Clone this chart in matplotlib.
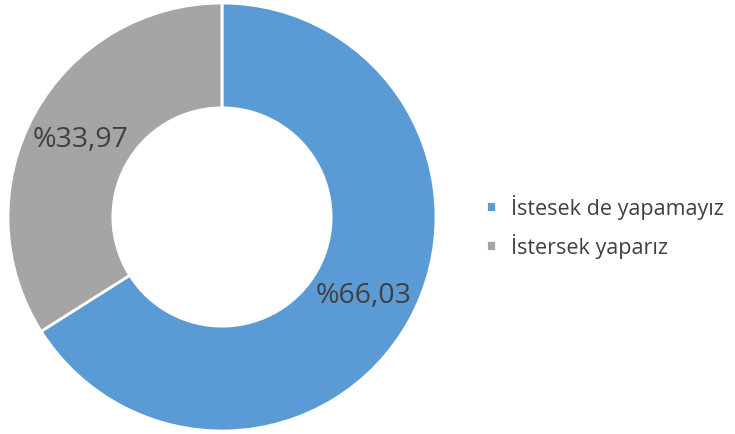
import matplotlib.pyplot as plt

labels = ["İstesek de yapamayız", "İstersek yaparız"]
values = [66.03, 33.97]
colors = ["#5B9BD5", "#A5A5A5"]

plt.rcParams['font.family'] = ['Open Sans', 'DejaVu Sans']

fig = plt.figure(figsize=(7.35, 4.35), dpi=100)
ax = fig.add_axes([(222 - 214) / 735, (435 - 218 - 214) / 435, 428 / 735, 428 / 435])

wedges, texts, autotexts = ax.pie(
    values, colors=colors, startangle=90, counterclock=False,
    radius=1, pctdistance=0.753,
    autopct=lambda p: "%" + f"{p:.2f}".replace(".", ","),
    wedgeprops=dict(width=0.49, edgecolor="white", linewidth=2),
    textprops=dict(color="#404040", fontsize=20.5))
ax.set_xlim(-1, 1)
ax.set_ylim(-1, 1)

fig.legend(wedges, labels, loc="center left", bbox_to_anchor=(467 / 735, 0.478),
           frameon=False, fontsize=15.5, labelcolor="#404040",
           handlelength=0.45, handleheight=0.45, handletextpad=0.7, labelspacing=0.65)

fig.savefig("out.png", dpi=100)
